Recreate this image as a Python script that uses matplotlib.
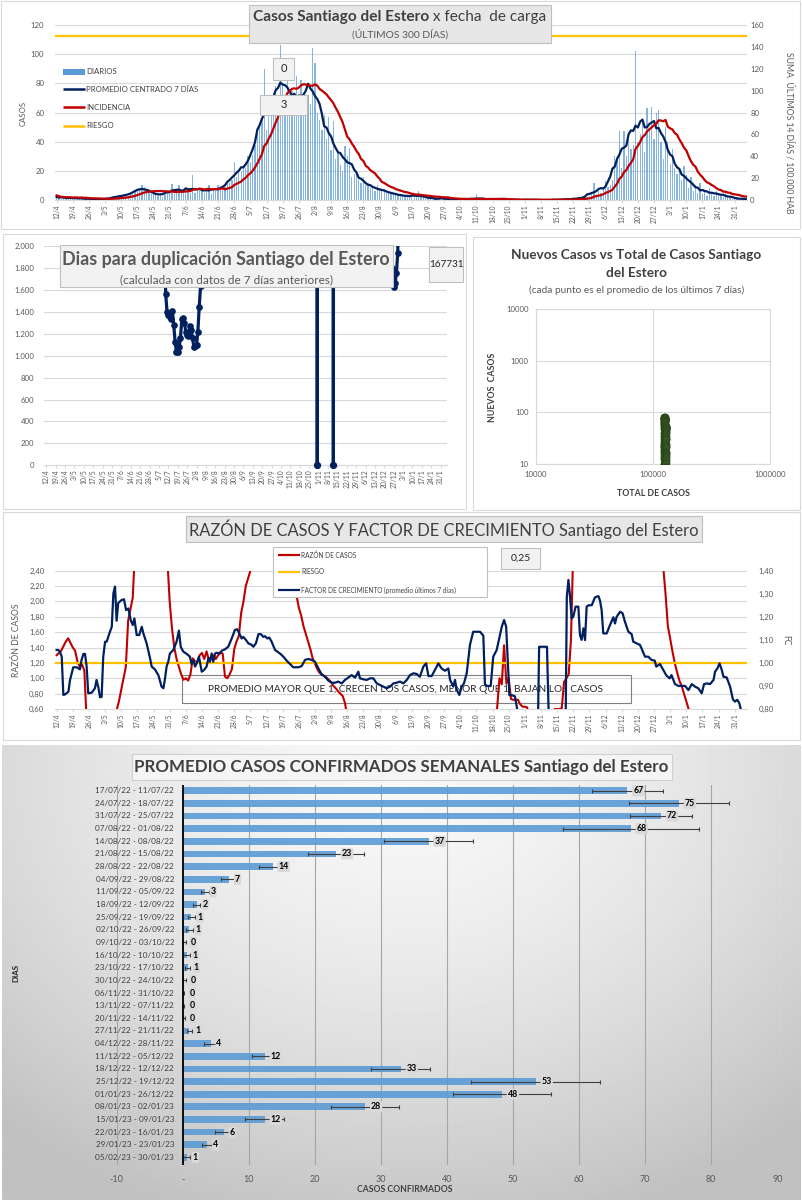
import datetime as dt
import numpy as np
import pandas as pd
import matplotlib
matplotlib.use("Agg")
import matplotlib.pyplot as plt
from matplotlib.patches import Rectangle
from matplotlib.lines import Line2D
from matplotlib.ticker import FuncFormatter

plt.rcParams['font.family'] = ['Lato', 'DejaVu Sans']

W, H = 803, 1200
INICIO = dt.date(2022, 4, 12)

# casos diarios por fecha de carga, 12/4/22 a 5/2/23 (300 dias)
DIARIOS = [
    3, 2, 1, 2, 1, 2, 1,
    1, 2, 1, 1, 2, 0, 1,
    1, 0, 1, 1, 0, 1, 0,
    0, 1, 1, 2, 2, 2, 3,
    3, 2, 4, 3, 5, 4, 6,
    7, 8, 10, 9, 7, 6, 4,
    5, 4, 3, 5, 2, 4, 4,
    6, 11, 4, 7, 10, 5, 6,
    7, 6, 5, 17, 5, 6, 7,
    6, 5, 8, 10, 4, 7, 6,
    10, 7, 8, 9, 11, 12, 14,
    26, 16, 20, 19, 24, 22, 30,
    26, 31, 38, 45, 52, 55, 90,
    48, 62, 60, 72, 78, 70, 106,
    80, 72, 86, 62, 75, 60, 85,
    60, 82, 70, 70, 72, 66, 104,
    94, 60, 55, 48, 58, 42, 57,
    34, 54, 28, 32, 24, 20, 37,
    30, 36, 16, 18, 20, 14, 12,
    16, 10, 12, 8, 9, 6, 10,
    8, 6, 7, 5, 6, 4, 5,
    4, 3, 4, 3, 2, 3, 3,
    2, 3, 2, 6, 2, 2, 3,
    1, 1, 0, 2, 1, 1, 0,
    1, 2, 1, 0, 1, 0, 1,
    0, 0, 1, 0, 0, 1, 0,
    4, 0, 1, 1, 0, 1, 0,
    1, 0, 1, 0, 1, 0, 0,
    0, 1, 0, 0, 0, 0, 0,
    0, 0, 0, 1, 0, 0, 0,
    0, 0, 0, 0, 0, 0, 0,
    0, 1, 0, 0, 1, 0, 1,
    1, 0, 1, 2, 1, 2, 2,
    3, 5, 12, 4, 6, 5, 8,
    13, 9, 10, 14, 30, 28, 47,
    22, 47, 30, 42, 35, 38, 102,
    40, 45, 55, 33, 63, 48, 64,
    42, 60, 62, 40, 28, 50, 40,
    25, 35, 22, 18, 20, 14, 23,
    17, 8, 16, 6, 10, 5, 12,
    4, 6, 3, 8, 5, 3, 6,
    4, 3, 2, 5, 2, 3, 1,
    1, 2, 0, 1, 0, 1,
]
POBLACION = 1000000
TOTAL_PREVIO = 124000
RIESGO_INC = 150

# dias para duplicacion (dia desde 12/4, valor)
DUP_DIA = [88, 89, 90, 91, 92, 93, 94, 95, 96, 97, 98, 99, 100, 101, 102, 103,
           104, 105, 106, 107, 108, 109, 110, 111, 112, 113, 114, 115, 116, 117,
           201, 202, 203, 213, 214, 215, 257, 258, 259, 260, 261, 262, 263]
DUP_VAL = [2200, 1562, 1401, 1370, 1350, 1331, 1407, 1280, 1128, 1036, 1036, 1076,
           1158, 1331, 1340, 1295, 1219, 1188, 1179, 1270, 1234, 1158, 1082, 1088,
           1097, 1219, 1447, 1635, 2400, 3500,
           30000, 0, 30000, 30000, 0, 30000, 2600, 1800, 1630, 1660, 1750, 1940, 2600]

# razon de casos
RAZON_DIA = [0, 1, 2, 3, 4, 5, 6, 7, 8, 9, 10, 11, 12, 13,
             25, 26, 27, 28, 29, 30, 31, 32, 33, 34,
             47, 48, 49, 50, 51, 52, 53, 54, 55, 56, 57, 58, 59, 60, 61, 62, 63, 64, 65,
             66, 67, 68, 69, 70, 71, 72, 73, 74, 75, 76, 77, 78, 79, 80, 81, 82, 83, 84, 85,
             102, 103, 104, 105, 106, 107, 108, 109, 110, 111, 112, 113, 114, 115, 116,
             117, 118, 119, 120, 121, 122, 123, 124, 125, 126,
             190, 191, 192, 193, 194, 195, 196, 197, 198, 199, 200, 201, 202, 203, 204, 205,
             215, 216, 217, 218, 219, 220, 221, 222, 223, 224,
             262, 263, 264, 265, 266, 267, 268, 269, 270, 271, 272, 273, 274, 275]
RAZON_VAL = [1.30, 1.33, 1.36, 1.42, 1.48, 1.52, 1.46, 1.40, 1.36, 1.22, 1.15, 1.18, 1.10, 0.45,
             0.40, 0.58, 0.70, 0.85, 1.00, 1.15, 1.75, 1.90, 2.05, 2.70,
             3.00, 2.55, 2.00, 1.65, 1.40, 1.25, 1.15, 1.05, 0.98, 1.00, 0.97, 1.05, 1.26,
             1.22, 1.20, 1.30, 1.33, 1.25, 1.35,
             1.24, 1.28, 1.30, 1.25, 1.30, 1.34, 1.32, 1.02, 1.00, 1.05, 1.12, 1.38, 1.48,
             1.55, 1.85, 2.00, 2.20, 2.30, 2.40, 2.70,
             2.80, 2.45, 2.08, 1.92, 1.82, 1.68, 1.58, 1.48, 1.38, 1.26, 1.19, 1.12, 1.07,
             1.05, 1.03, 1.01, 0.98, 0.95, 0.90, 0.87, 0.83, 0.80, 0.77, 0.68, 0.50,
             0.45, 0.62, 1.00, 0.92, 1.43, 0.93, 1.00, 0.73, 0.72, 0.72, 0.72, 0.66, 0.63,
             0.63, 0.62, 0.50,
             0.45, 0.60, 0.60, 0.60, 0.61, 0.95, 1.00, 1.05, 1.50, 2.70,
             2.80, 2.45, 2.10, 1.68, 1.52, 1.35, 1.20, 1.08, 0.97, 0.90, 0.80, 0.70, 0.60, 0.50]
RIESGO_RAZON = 1.2

# factor de crecimiento (promedio ultimos 7 dias)
FC_DIA = [0, 0.7, 1.4, 2.2, 2.9, 3.6, 5.1, 5.8, 7.2, 8.7, 10.1, 10.8, 11.6, 12.3, 13.0, 13.7,
          15.2, 16.6, 17.3, 18.1, 18.8, 19.5, 20.2, 21.0, 21.7, 23.1, 23.9, 24.6, 25.3, 26.0,
          26.7, 28.2, 29.2, 30.1, 31.1, 32.1, 33.0, 33.7, 34.7, 35.8, 36.9, 37.6, 39.0, 40.5,
          41.2, 42.6, 44.1, 45.5, 46.3, 47.0, 47.7, 48.4, 49.1, 50.6, 52.0, 53.0, 53.8, 54.9,
          56.4, 57.8, 58.5, 59.3, 60.0, 60.7, 61.7, 62.9, 63.9, 65.0, 65.8, 66.5, 67.2, 67.9,
          68.7, 69.4, 70.8, 71.6, 73.0, 74.4, 75.9, 77.3, 78.3, 79.2, 80.2, 80.9, 82.1, 83.1,
          84.6, 85.3, 86.4, 87.5, 88.5, 89.6, 90.3, 91.4, 92.2, 93.2, 94.7, 96.8, 98.3, 99.7,
          101.2, 102.6, 104.8, 106.2, 107.7, 109.1, 110.6, 112.0, 113.5, 114.9, 116.4, 117.8,
          119.3, 120.7, 122.1, 123.6, 125.0, 126.5, 127.9, 129.4, 130.8, 131.5, 133.0, 134.4,
          135.9, 137.3, 138.8, 140.2, 141.7, 143.1, 144.6, 146.0, 147.4, 148.9, 150.3, 151.8,
          153.2, 154.7, 156.1, 157.5, 159.0, 160.2, 161.2, 162.6, 164.0, 165.5, 166.9, 168.4,
          169.8, 170.6, 172.0, 172.7, 173.5, 174.6, 175.6, 176.6, 177.8, 179.2, 180.6, 183.6,
          185.0, 185.7, 186.6, 188.2, 189.3, 190.8, 193.0, 194.0, 194.9, 195.8, 196.3, 197.3,
          198.7, 199.5, 200.4, 208.7, 209.2, 212.6, 213.4, 220.7, 221.2, 221.9, 222.6, 223.3,
          224.0, 225.0, 226.2, 226.9, 227.6, 228.4, 229.1, 229.8, 230.6, 232.0, 233.4, 234.9,
          235.6, 236.3, 237.0, 238.5, 239.9, 241.4, 242.1, 242.8, 244.3, 245.4, 246.4, 247.9,
          249.3, 250.0, 251.5, 252.9, 253.6, 255.1, 256.5, 257.9, 259.3, 260.0, 261.6, 262.9,
          264.4, 265.8, 266.6, 268.1, 269.6, 271.0, 272.5, 273.9, 275.4, 276.8, 278.2, 279.7,
          280.7, 281.9, 283.3, 284.8, 285.5, 286.5, 287.4, 288.4, 289.1, 290.5, 292.0, 293.2,
          294.1, 295.1, 296.0, 296.6, 297.0]
FC_VAL = [1.056, 1.056, 1.049, 1.027, 0.861, 0.863, 0.875, 0.926, 0.981, 0.981, 0.972, 1.013,
          1.039, 1.039, 0.984, 0.868, 0.871, 0.890, 0.926, 0.893, 0.851, 0.853, 1.027, 1.092,
          1.092, 1.135, 1.157, 1.302, 1.331, 1.183, 1.260, 1.273, 1.276, 1.229, 1.236, 1.186,
          1.164, 1.193, 1.121, 1.121, 1.157, 1.128, 1.085, 1.020, 0.984, 0.972, 0.947, 0.897,
          0.890, 0.933, 0.986, 1.005, 1.041, 1.056, 1.092, 1.140, 1.070, 1.049, 1.039, 1.027,
          0.995, 1.012, 0.984, 0.998, 1.027, 0.962, 0.969, 0.984, 1.020, 1.005, 1.041, 1.005,
          1.041, 1.044, 1.041, 1.053, 1.059, 1.070, 1.106, 1.143, 1.146, 1.128, 1.106, 1.113,
          1.099, 1.085, 1.078, 1.070, 1.085, 1.125, 1.125, 1.113, 1.116, 1.106, 1.110, 1.092,
          1.056, 1.041, 1.027, 1.010, 0.995, 0.981, 0.981, 0.986, 1.013, 1.017, 1.013, 1.005,
          0.976, 0.950, 0.940, 0.923, 0.914, 0.914, 0.919, 0.911, 0.926, 0.937, 0.947, 0.936,
          0.962, 0.933, 0.929, 0.926, 0.933, 0.933, 0.911, 0.904, 0.897, 0.890, 0.897, 0.911,
          0.914, 0.919, 0.911, 0.926, 0.947, 0.955, 0.952, 0.940, 0.984, 0.998, 0.943, 0.943,
          0.969, 0.998, 0.976, 0.966, 0.976, 0.926, 0.897, 0.926, 0.882, 0.861, 0.897, 0.911,
          0.955, 1.078, 1.135, 1.135, 1.118, 0.907, 0.900, 0.900, 1.027, 1.056, 1.157, 1.186,
          1.157, 0.970, 0.860, 0.860, 0.855, 0.810, 0.750, 0.750, 1.070, 1.070, 0.750, 0.750,
          1.287, 1.360, 1.287, 1.193, 1.200, 1.244, 1.244, 1.121, 1.100, 1.150, 1.099, 1.244,
          1.250, 1.250, 1.284, 1.290, 1.270, 1.229, 1.128, 1.128, 1.164, 1.198, 1.171, 1.200,
          1.222, 1.215, 1.179, 1.135, 1.125, 1.092, 1.085, 1.078, 1.063, 1.027, 1.027, 1.013,
          1.010, 0.984, 0.995, 0.972, 0.945, 0.933, 0.947, 0.908, 0.900, 0.900, 0.900, 0.882,
          0.908, 0.897, 0.890, 0.868, 0.908, 0.911, 0.908, 0.926, 0.962, 0.976, 0.998, 0.969,
          0.940, 0.937, 0.897, 0.842, 0.832, 0.840, 0.825, 0.800, 0.760]

# promedio semanal de casos confirmados
SEMANAS = ['17/07/22 - 11/07/22', '24/07/22 - 18/07/22', '31/07/22 - 25/07/22',
           '07/08/22 - 01/08/22', '14/08/22 - 08/08/22', '21/08/22 - 15/08/22',
           '28/08/22 - 22/08/22', '04/09/22 - 29/08/22', '11/09/22 - 05/09/22',
           '18/09/22 - 12/09/22', '25/09/22 - 19/09/22', '02/10/22 - 26/09/22',
           '09/10/22 - 03/10/22', '16/10/22 - 10/10/22', '23/10/22 - 17/10/22',
           '30/10/22 - 24/10/22', '06/11/22 - 31/10/22', '13/11/22 - 07/11/22',
           '20/11/22 - 14/11/22', '27/11/22 - 21/11/22', '04/12/22 - 28/11/22',
           '11/12/22 - 05/12/22', '18/12/22 - 12/12/22', '25/12/22 - 19/12/22',
           '01/01/23 - 26/12/22', '08/01/23 - 02/01/23', '15/01/23 - 09/01/23',
           '22/01/23 - 16/01/23', '29/01/23 - 23/01/23', '05/02/23 - 30/01/23']
PROMEDIO_SEM = [67.3, 75.1, 72.4, 67.8, 37.2, 23.2, 13.6, 7.0, 3.3, 2.1, 1.3, 1.0, 0.26, 0.6,
                0.76, 0.26, 0.1, 0.1, 0.2, 1.0, 4.2, 12.4, 33.0, 53.4, 48.3, 27.6, 12.4, 6.2,
                3.7, 0.6]
ERROR_SEM = [5.4, 7.6, 4.7, 10.3, 6.8, 4.3, 2.0, 1.2, 0.6, 0.55, 0.5, 0.55, 0.2, 0.5, 0.35,
             0.18, 0.1, 0.1, 0.15, 0.35, 1.0, 1.9, 4.5, 9.8, 7.4, 5.2, 3.0, 1.3, 0.8, 0.5]

NAVY = '#002060'
ROJO = '#c00000'
AMARILLO = '#ffc000'
AZUL = '#5b9bd5'
GRIS_T = '#595959'
GRILLA = '#d9d9d9'

fig = plt.figure(figsize=(W / 100, H / 100), dpi=100)
rend = fig.canvas.get_renderer()


def caja(x0, y0, x1, y1, **kw):
    return fig.add_axes([x0 / W, 1 - y1 / H, (x1 - x0) / W, (y1 - y0) / H], **kw)


def rect(x0, y0, x1, y1, fc='none', ec=GRILLA, lw=0.8, z=1):
    fig.add_artist(Rectangle((x0 / W, 1 - y1 / H), (x1 - x0) / W, (y1 - y0) / H,
                             transform=fig.transFigure, facecolor=fc, edgecolor=ec,
                             lw=lw, zorder=z))


def texto(x, y, s, **kw):
    kw.setdefault('va', 'center')
    return fig.text(x / W, 1 - y / H, s, **kw)


def ajustar(t, ancho):
    w = t.get_window_extent(rend).width
    t.set_fontsize(t.get_fontsize() * ancho / w)
    return t.get_fontsize()


def mixto(x0, y, partes, ancho, color):
    ts = [texto(x0, y, s, fontsize=10, fontweight=w, color=color, ha='left') for s, w in partes]
    total = sum(t.get_window_extent(rend).width for t in ts)
    x = x0
    for t in ts:
        t.set_fontsize(10 * ancho / total)
        t.set_x(x / W)
        x += t.get_window_extent(rend).width


def linea_fig(x0, x1, y, color, lw):
    fig.add_artist(Line2D([x0 / W, x1 / W], [1 - y / H, 1 - y / H], color=color, lw=lw,
                          transform=fig.transFigure, solid_capstyle='butt'))


dias = np.arange(len(DIARIOS))
serie = pd.Series(DIARIOS, dtype=float)
promedio = serie.rolling(7, center=True, min_periods=4).mean()
incidencia = serie.rolling(14, min_periods=1).mean() * 14 / POBLACION * 100000
semana7 = serie.rolling(7, min_periods=1).mean()
total = TOTAL_PREVIO + serie.cumsum()

ticks = list(range(0, 300, 7))
etiq = []
for d in ticks:
    f = INICIO + dt.timedelta(days=d)
    etiq.append(f"{f.day}/{f.month}")


def estilo(ax, spines_off=('top', 'left', 'right')):
    for s in spines_off:
        ax.spines[s].set_visible(False)
    ax.spines['bottom'].set_color(GRILLA)
    ax.set_facecolor('none')


# ---------- panel 1: casos diarios ----------
rect(1, 1, 800, 229)
ax1 = caja(55.5, 25, 747.4, 200)
ax1.bar(dias, DIARIOS, width=0.55, color=AZUL, alpha=0.75, zorder=2)
ax1.plot(dias, promedio, color=NAVY, lw=1.6, zorder=3)
ax1.set_xlim(-0.5, 299.5)
ax1.set_ylim(0, 120)
ax1.set_yticks(range(0, 121, 20))
ax1.yaxis.grid(True, color=GRILLA, lw=0.8)
ax1.set_axisbelow(True)
estilo(ax1)
ax1.tick_params(axis='y', length=0, labelsize=5.6, labelcolor=GRIS_T, pad=8)
ax1.set_xticks(ticks)
ax1.set_xticklabels(etiq, rotation=90, fontsize=4.8, color=GRIS_T)
ax1.tick_params(axis='x', length=2, color=GRILLA, pad=1)
ax1r = ax1.twinx()
ax1r.plot(dias, incidencia, color=ROJO, lw=1.6)
ax1r.axhline(RIESGO_INC, color=AMARILLO, lw=1.6)
ax1r.set_ylim(0, 160)
ax1r.set_yticks(range(0, 161, 20))
estilo(ax1r, ('top', 'left', 'right', 'bottom'))
ax1r.tick_params(axis='y', length=0, labelsize=5.6, labelcolor=GRIS_T, pad=2)
texto(23, 113, 'CASOS', rotation=90, ha='center', fontsize=5.6, color=GRIS_T)
texto(789, 133, 'SUMA  ÚLTIMOS 14 DÍAS / 100.000 HAB', rotation=-90, ha='center',
      fontsize=6.2, color=GRIS_T)

ley = [('DIARIOS', 71.7), ('PROMEDIO CENTRADO 7 DÍAS', 89.3), ('INCIDENCIA', 107.3), ('RIESGO', 125.7)]
rect(63, 69, 85, 74.5, fc=AZUL, ec='none', z=2)
linea_fig(63, 85, 89.3, NAVY, 1.8)
linea_fig(63, 85, 107.3, ROJO, 1.8)
linea_fig(63, 85, 125.7, AMARILLO, 1.8)
for s, y in ley:
    texto(86, y, s, ha='left', fontsize=5.6, color='#404040')

rect(249, 5, 551, 43, fc='#e7e7e7', ec='#bfbfbf', z=2)
mixto(253, 17.3, [('Casos Santiago del Estero', 'bold'), (' x fecha  de carga', 'normal')], 294, '#404040')
t = texto(400, 34.7, '(ÚLTIMOS 300 DÍAS)', ha='center', fontsize=7, color=GRIS_T)
ajustar(t, 97)
rect(273, 58, 294, 80, fc='#f2f2f2', ec='#bfbfbf', z=2)
texto(283.5, 69, '0', ha='center', fontsize=8, color='#262626')
rect(260, 95, 307, 115, fc='#f2f2f2', ec='#bfbfbf', z=2)
texto(283.5, 105, '3', ha='center', fontsize=8, color='#262626')

# ---------- panel 2a: dias para duplicacion ----------
rect(3, 234, 466, 509)
ax2 = caja(44.3, 246, 446.7, 465.3)
ax2.plot(DUP_DIA, DUP_VAL, color=NAVY, lw=2.3, marker='o', ms=3.8, zorder=3)
ceros = [d for d, v in zip(DUP_DIA, DUP_VAL) if v == 0]
ax2.plot(ceros, [0] * len(ceros), 'o', color=NAVY, ms=4.2, clip_on=False, zorder=4)
ax2.set_xlim(-1.5, 298.5)
ax2.set_ylim(0, 2000)
ax2.set_yticks(range(0, 2001, 200))
ax2.yaxis.set_major_formatter(FuncFormatter(lambda v, p: f"{int(v):,}".replace(',', '.')))
ax2.yaxis.grid(True, color=GRILLA, lw=0.8)
ax2.set_axisbelow(True)
estilo(ax2)
ax2.tick_params(axis='y', length=0, labelsize=5.6, labelcolor=GRIS_T, pad=7)
ax2.set_xticks(ticks)
ax2.set_xticklabels(etiq, rotation=90, fontsize=4.9, color=GRIS_T)
ax2.tick_params(axis='x', length=2, color=GRILLA, pad=1)
rect(60, 245, 393, 287, fc='#f2f2f2', ec='#bfbfbf', z=2)
t = texto(226, 260, 'Dias para duplicación Santiago del Estero', ha='center', fontsize=12,
          fontweight='bold', color=GRIS_T)
ajustar(t, 326)
t = texto(226.5, 279.7, '(calculada con datos de 7 días anteriores)', ha='center', fontsize=8,
          color=GRIS_T)
ajustar(t, 213)
rect(429, 247, 463, 282, fc='#f2f2f2', ec='#bfbfbf', z=2)
texto(446, 264.5, '167731', ha='center', fontsize=7.2, color='#262626')

# ---------- panel 2b: nuevos vs total ----------
rect(473, 237, 800, 510)
ax3 = caja(535.7, 309, 770, 464)
ax3.set_xscale('log')
ax3.set_yscale('log')
ax3.plot(total, semana7, 'o', ms=5, color='#375623', mec='#2b461b', mew=0.6, zorder=3)
ax3.set_xlim(1e4, 1e6)
ax3.set_ylim(10, 1e4)
ax3.set_xticks([1e4, 1e5, 1e6], ['10000', '100000', '1000000'])
ax3.set_yticks([10, 100, 1000, 10000], ['10', '100', '1000', '10000'])
ax3.minorticks_off()
ax3.grid(True, color=GRILLA, lw=0.8)
ax3.set_axisbelow(True)
for s in ax3.spines.values():
    s.set_color(GRILLA)
ax3.tick_params(length=0, labelsize=5.6, labelcolor=GRIS_T, pad=5)
t = texto(636.5, 255, 'Nuevos Casos vs Total de Casos Santiago', ha='center', fontsize=10,
          fontweight='bold', color='#404040')
fs = ajustar(t, 251)
texto(636.5, 273, 'del Estero', ha='center', fontsize=fs, fontweight='bold', color='#404040')
t = texto(636.5, 290, '(cada punto es el promedio de los últimos 7 días)', ha='center',
          fontsize=6.5, color=GRIS_T)
ajustar(t, 214)
texto(493, 387, 'NUEVOS  CASOS', rotation=90, ha='center', fontsize=6.3, fontweight='bold',
      color='#404040')
texto(653, 493, 'TOTAL DE CASOS', ha='center', fontsize=6.3, fontweight='bold', color='#404040')

# ---------- panel 3: razon de casos y factor de crecimiento ----------
rect(3, 512, 800, 740)
ax4 = caja(55.5, 570.7, 747.4, 709)
ax4.plot(RAZON_DIA, RAZON_VAL, color=ROJO, lw=1.5, zorder=3)
ax4.axhline(RIESGO_RAZON, color=AMARILLO, lw=1.6, zorder=4)
ax4.set_xlim(-0.5, 299.5)
ax4.set_ylim(0.6, 2.4)
ax4.set_yticks(np.arange(0.6, 2.41, 0.2))
ax4.yaxis.set_major_formatter(FuncFormatter(lambda v, p: f"{v:.2f}".replace('.', ',')))
ax4.yaxis.grid(True, color=GRILLA, lw=0.8)
ax4.set_axisbelow(True)
estilo(ax4)
ax4.tick_params(axis='y', length=0, labelsize=5.6, labelcolor=GRIS_T, pad=8)
ax4.set_xticks(ticks)
ax4.set_xticklabels(etiq, rotation=90, fontsize=4.8, color=GRIS_T)
ax4.tick_params(axis='x', length=2, color=GRILLA, pad=1)
ax4.add_patch(Rectangle(((182) / W, 1 - 703 / H), (631 - 182) / W, (703 - 675) / H,
                        transform=fig.transFigure, facecolor='none', edgecolor='#7f7f7f',
                        lw=0.8, zorder=1, clip_on=False))
t = ax4.text(406 / W, 1 - 689 / H, 'PROMEDIO MAYOR QUE 1, CRECEN LOS CASOS, MENOR QUE 1, BAJAN LOS CASOS',
             transform=fig.transFigure, ha='center', va='center', fontsize=7.5, color='#262626',
             zorder=1.5)
ajustar(t, 393)
ax4r = ax4.twinx()
ax4r.plot(FC_DIA, FC_VAL, color=NAVY, lw=1.6)
ax4r.set_ylim(0.8, 1.4)
ax4r.set_yticks(np.arange(0.8, 1.41, 0.1))
ax4r.yaxis.set_major_formatter(FuncFormatter(lambda v, p: f"{v:.2f}".replace('.', ',')))
estilo(ax4r, ('top', 'left', 'right', 'bottom'))
ax4r.tick_params(axis='y', length=0, labelsize=5.6, labelcolor=GRIS_T, pad=8)
texto(17, 640, 'RAZÓN DE CASOS', rotation=90, ha='center', fontsize=6.2, color=GRIS_T)
texto(786, 640, 'FC', rotation=-90, ha='center', fontsize=6.2, color=GRIS_T)
rect(186, 516, 702, 542, fc='#e7e7e7', ec='#bfbfbf', z=2)
t = texto(444, 529, 'RAZÓN DE CASOS Y FACTOR DE CRECIMIENTO Santiago del Estero', ha='center',
          fontsize=12, color='#404040')
ajustar(t, 508)
rect(273, 547, 487, 597, fc='white', ec='#bfbfbf', z=2)
for s, y, c in [('RAZÓN DE CASOS', 555, ROJO), ('RIESGO', 572, AMARILLO),
                ('FACTOR DE CRECIMIENTO (promedio últimos 7 días)', 590, NAVY)]:
    linea_fig(278, 300, y, c, 1.6)
    texto(301.5, y, s, ha='left', fontsize=4.7, color='#404040')
rect(501, 548, 540, 569, fc='#f2f2f2', ec='#bfbfbf', z=2)
texto(520.5, 558.5, '0,25', ha='center', fontsize=7.5, color='#262626')

# ---------- panel 4: promedio semanal ----------
bg = caja(2, 745, 801, 1200, zorder=-10)
yy, xx = np.mgrid[0:1:300j, 0:1:500j]
rad = np.sqrt(((xx - 0.5) / 0.75) ** 2 + ((yy - 0.05) / 1.05) ** 2)
bg.imshow(0.975 - 0.22 * np.clip(rad, 0, 1) ** 1.5, cmap='gray', vmin=0, vmax=1,
          aspect='auto', interpolation='bilinear', extent=(0, 1, 1, 0))
bg.set_axis_off()

ax5 = caja(116.7, 785, 777.3, 1165)
ax5.set_facecolor('none')
pos = np.arange(len(SEMANAS))
ax5.barh(pos, PROMEDIO_SEM, height=0.53, color='#5b9bd5', alpha=0.9, zorder=3,
         xerr=ERROR_SEM, error_kw=dict(ecolor='#404040', elinewidth=0.8, capsize=1.6,
                                       capthick=0.8, zorder=4))
ax5.axvline(0, color='black', lw=1.3, zorder=5)
ax5.set_xlim(-10, 90)
ax5.set_ylim(29.6, -0.45)
ax5.set_xticks(range(-10, 91, 10))
ax5.set_xticklabels(['-10', '-'] + [str(v) for v in range(10, 91, 10)])
ax5.xaxis.grid(True, color='#a6a6a6', lw=0.8)
ax5.set_axisbelow(True)
for s in ax5.spines.values():
    s.set_visible(False)
ax5.set_yticks([])
ax5.tick_params(axis='x', length=0, labelsize=6.5, labelcolor=GRIS_T, pad=7)
for i, (s, v) in enumerate(zip(SEMANAS, PROMEDIO_SEM)):
    ax5.text(-1.3, i, s, ha='right', va='center', fontsize=5.9, color='#404040', zorder=6)
    ax5.text(v + 0.9, i, f"{v:.0f}", ha='left', va='center', fontsize=6.3, fontweight='bold',
             color='black', zorder=6,
             bbox=dict(boxstyle='round,pad=0.12', fc='#d9d9d9', ec='none'))
texto(16, 973, 'DIAS', rotation=90, ha='center', fontsize=5.8, fontweight='bold', color='#262626')
texto(405, 1189, 'CASOS CONFIRMADOS', ha='center', fontsize=6.2, fontweight='bold', color='#404040')
rect(132, 754, 672, 780, fc='#f5f5f5', ec='#d0d0d0', z=2)
t = texto(401.5, 767, 'PROMEDIO CASOS CONFIRMADOS SEMANALES Santiago del Estero', ha='center',
          fontsize=12, fontweight='bold', color='#404040')
ajustar(t, 533)

fig.savefig('out.png', dpi=100)
